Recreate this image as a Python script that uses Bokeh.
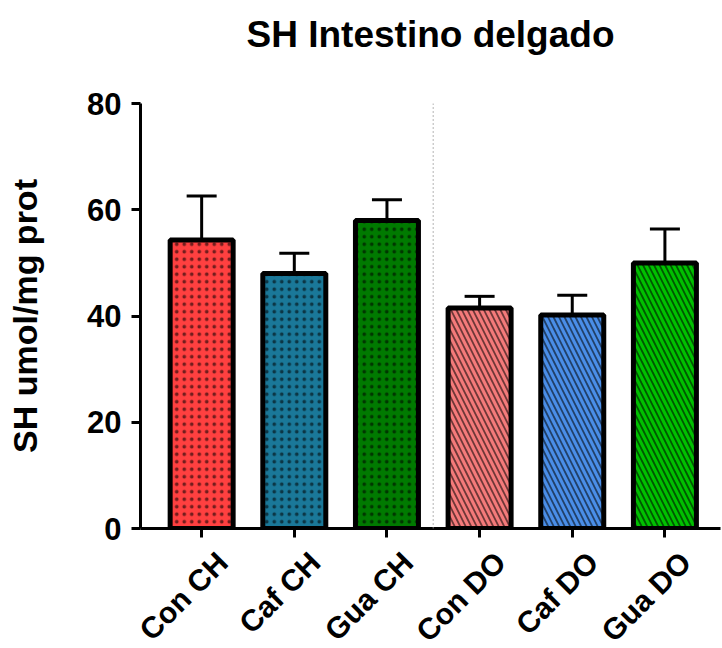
from bokeh.plotting import figure
from bokeh.layouts import column
from bokeh.models import ColumnDataSource, Range1d, FixedTicker, Whisker, TeeHead, Span
from bokeh.core.properties import value
from bokeh.embed import file_html
from bokeh.resources import INLINE
from math import pi

title_text = "SH Intestino delgado"
y_label = "SH umol/mg prot"
categories = ["Con CH", "Caf CH", "Gua CH", "Con DO", "Caf DO", "Gua DO"]
means = [54.3, 48.0, 58.0, 41.5, 40.2, 50.0]
errors = [8.3, 3.8, 3.9, 2.2, 3.7, 6.4]
y_ticks = [0, 20, 40, 60, 80]
n_first_group = 3

fill_colors = ["#ff4040", "#1a7899", "#007a00", "#f47a7a", "#4a8ee8", "#00c000"]
hatches = [".", ".", ".", "\\", "\\", "\\"]
hatch_scales = [7.5, 7.5, 7.5, 11, 11, 11]
hatch_weights = [1.3, 1.3, 1.3, 1.8, 1.8, 1.8]

xs = list(range(len(categories)))
src = ColumnDataSource(dict(
    x=xs, top=means, err_top=[m + e for m, e in zip(means, errors)],
    color=fill_colors, hatch=hatches, hs=hatch_scales, hw=hatch_weights,
))

FONT = "Liberation Sans"
W = 722
LEFT, RIGHT = 140, 2
X0, X1 = -0.66, 5.6
T_H, P_TOP, FRAME_H, P_BOT, Q_H = 75, 28, 425, 16, 104

def bare(fig):
    fig.outline_line_color = None
    fig.xgrid.visible = False
    fig.ygrid.visible = False
    fig.axis.visible = False
    fig.background_fill_color = "white"
    fig.border_fill_color = "white"

# ---- title strip (its frame is aligned with the main plot's frame)
t = figure(width=W, height=T_H, output_backend="svg", toolbar_location=None,
           x_range=Range1d(LEFT, W - RIGHT), y_range=Range1d(0, T_H),
           min_border_left=LEFT, min_border_right=RIGHT, min_border_top=0, min_border_bottom=0)
bare(t)
t.text(x=[(LEFT + W - RIGHT) / 2], y=[T_H - 34], text=[title_text],
       text_align="center", text_baseline="alphabetic",
       text_font=value(FONT), text_font_style="bold", text_font_size="37px",
       text_color="black")

# ---- main plot
p = figure(width=W, height=P_TOP + FRAME_H + P_BOT, output_backend="svg", toolbar_location=None,
           x_range=Range1d(X0, X1), y_range=Range1d(0, y_ticks[-1]),
           min_border_left=LEFT, min_border_right=RIGHT, min_border_top=P_TOP,
           min_border_bottom=P_BOT)
p.outline_line_color = None
p.xgrid.visible = False
p.ygrid.visible = False
p.background_fill_color = "white"

p.add_layout(Span(location=n_first_group - 0.5, dimension="height", line_color="#999999",
                  line_dash="1 3", line_width=1.5))

wh = Whisker(source=src, base="x", lower="top", upper="err_top",
             line_color="black", line_width=3,
             upper_head=TeeHead(size=30, line_width=3, line_color="black"),
             lower_head=None)
p.add_layout(wh)

p.vbar(x="x", top="top", bottom=0, width=0.68, source=src,
       fill_color="color", line_color="black", line_width=5,
       hatch_pattern="hatch", hatch_color="black", hatch_alpha=0.55,
       hatch_scale="hs", hatch_weight="hw")

for ax in (p.xaxis[0], p.yaxis[0]):
    ax.axis_line_width = 3
    ax.major_tick_line_width = 3
    ax.major_tick_out = 9
    ax.major_tick_in = 0
    ax.minor_tick_line_color = None
    ax.major_label_text_font = FONT
    ax.major_label_text_font_style = "bold"
    ax.major_label_text_font_size = "31px"
    ax.major_label_text_color = "black"

p.yaxis.ticker = FixedTicker(ticks=y_ticks)
p.yaxis.axis_label = y_label
p.yaxis.axis_label_text_font = FONT
p.yaxis.axis_label_text_font_style = "bold"
p.yaxis.axis_label_text_font_size = "34px"
p.yaxis.axis_label_text_color = "black"
p.yaxis.axis_label_standoff = 40
p.yaxis.major_label_standoff = 10

p.xaxis.ticker = FixedTicker(ticks=xs)
p.xaxis.major_label_overrides = {i: "" for i in xs}
p.xaxis.major_label_text_font_size = "1px"
p.xaxis.major_label_standoff = 0

# ---- category labels strip (same x scale as the main plot)
q = figure(width=W, height=Q_H, output_backend="svg", toolbar_location=None,
           x_range=Range1d(X0, X1), y_range=Range1d(0, Q_H),
           min_border_left=LEFT, min_border_right=RIGHT, min_border_top=0, min_border_bottom=0)
bare(q)
q.text(x=xs, y=[Q_H - 1] * len(xs), text=categories, angle=pi / 4,
       text_align="right", text_baseline="top", x_offset=9,
       text_font=value(FONT), text_font_style="bold",
       text_font_size="30px", text_color="black")

layout = column(t, p, q, spacing=0)
open("out.html", "w").write(file_html(layout, INLINE))
